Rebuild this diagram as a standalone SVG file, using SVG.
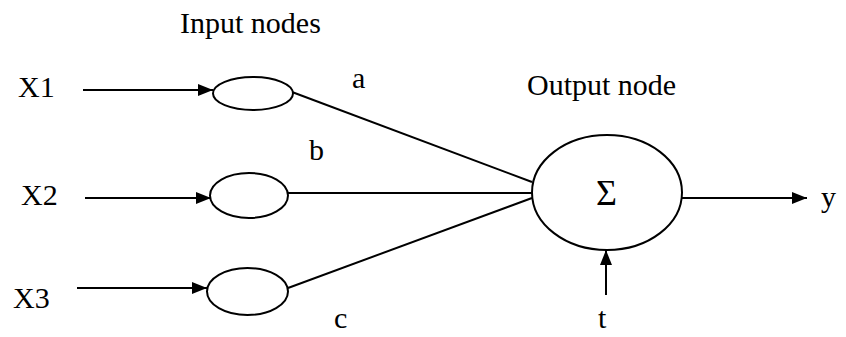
<svg xmlns="http://www.w3.org/2000/svg" width="846" height="337" viewBox="0 0 846 337">
<style>
text{font-family:'Liberation Serif','Times New Roman',Times,'DejaVu Serif',serif;font-size:30px;fill:#000}
.n{fill:#fff;stroke:#000;stroke-width:2}
.c{stroke:#000;stroke-width:2;fill:none}
.a{marker-end:url(#ah)}
</style>
<defs>
<marker id="ah" markerWidth="16" markerHeight="12" refX="15" refY="6" orient="auto" markerUnits="userSpaceOnUse">
<path d="M0,0 L15,6 L0,12 Z" fill="#000"/>
</marker>
</defs>
<rect width="846" height="337" fill="#fff"/>
<text x="180" y="33">Input nodes</text>
<text x="527" y="95">Output node</text>
<g id="labels">
<text x="18" y="97">X1</text>
<text x="21" y="205">X2</text>
<text x="13" y="308">X3</text>
<text x="352" y="88">a</text>
<text x="309" y="160">b</text>
<text x="334" y="328">c</text>
<text x="821" y="207">y</text>
<text x="598" y="328">t</text>
</g>
<g id="connectors">
<line class="c a" x1="83" y1="90" x2="213" y2="90"/>
<line class="c a" x1="85" y1="198" x2="211" y2="198"/>
<line class="c a" x1="77" y1="288" x2="207" y2="288"/>
<line class="c" x1="292" y1="92" x2="532" y2="182"/>
<line class="c" x1="288" y1="193" x2="532" y2="193"/>
<line class="c" x1="288" y1="288" x2="532" y2="198"/>
<line class="c a" x1="682" y1="198" x2="807" y2="198"/>
<line class="c a" x1="606" y1="295" x2="606" y2="250"/>
</g>
<g id="in1"><ellipse class="n" cx="253" cy="93.5" rx="40" ry="16.5"/></g>
<g id="in2"><ellipse class="n" cx="249" cy="195.5" rx="39" ry="22.5"/></g>
<g id="in3"><ellipse class="n" cx="247.5" cy="291.5" rx="40.5" ry="23.5"/></g>
<g id="out"><ellipse class="n" cx="607" cy="192.5" rx="75" ry="57.5"/>
<text x="596" y="205" style="font-size:36px">Σ</text></g>
</svg>
